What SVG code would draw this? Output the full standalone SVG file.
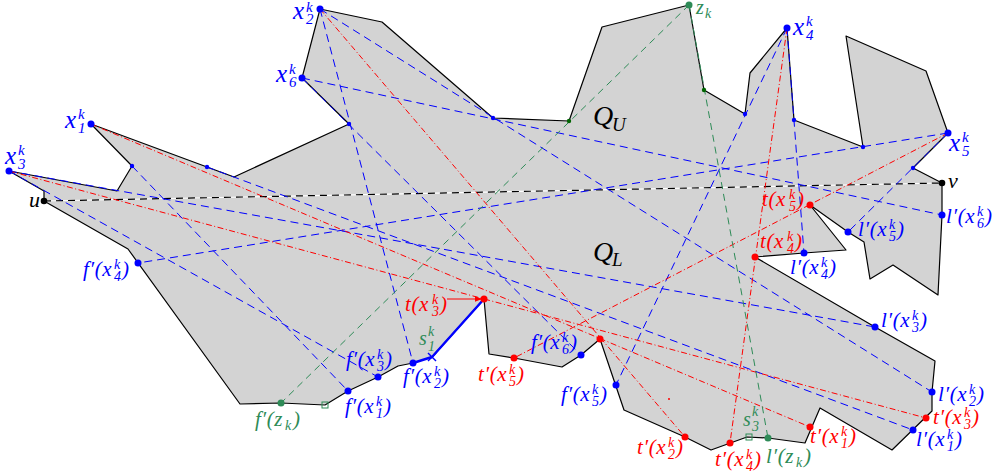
<svg xmlns="http://www.w3.org/2000/svg" width="993" height="473" viewBox="0 0 993 473">
<defs>
<style>
.poly{fill:#d3d3d3;stroke:#000;stroke-width:1.2;stroke-linejoin:round}
.bd{stroke:#0000ff;stroke-width:1;stroke-dasharray:8 5;fill:none}
.rd{stroke:#ff0000;stroke-width:1;stroke-dasharray:6 2.5 1 2.5;fill:none}
.gd{stroke:#2e8b57;stroke-width:1;stroke-dasharray:7 5;fill:none}
.L{font-family:"Liberation Serif","Times New Roman",serif;font-style:italic}
.m{font-size:21px;letter-spacing:0.6px}
.s{font-size:14px}
.X{font-size:25px}
.XS{font-size:15px}
.blue{fill:#0000ff}
.red{fill:#ff0000}
.grn{fill:#2e8b57}
.blk{fill:#000}
.bdot{fill:#0000ff}
.rdot{fill:#ff0000}
.gdot{fill:#2e8b57}
.dgdot{fill:#006400}
.sq{fill:none;stroke:#2e8b57;stroke-width:1}
</style>
<marker id="ah" viewBox="0 0 10 10" refX="10" refY="5" markerWidth="7" markerHeight="7" orient="auto" markerUnits="userSpaceOnUse">
<path d="M0,1 L10,5 L0,9 z" fill="#ff0000"/>
</marker>
</defs>

<g id="polygon">
<polygon class="poly" points="44,201 44,191 9,171 117,191 132,166 91,124 207,167 234,177 349,124 302,78 320,9 382,22 493,118 569,121 602,27 689,5 704,90 745,114 750,73 787,28 794,120 863,147 846,36 926,71 948,133 913,168 942,183 942,215 938,295 893,265 870,279 864,242 848,232 810,205 846,250 804,253 755,257 875,327 935,361 932,392 932,411 892,450 820,408 805,443 768,438 747,437 711,450 685,437 624,410 600,339 581,355 562,367 514,358 489,354 484,299 432,357 413,363 398,366 378,377 348,391 325,405 281,403 240,404 128,249"/>
<text class="L blk" x="593" y="125" font-size="28">Q</text><text class="L blk" x="612" y="131" font-size="19">U</text>
<text class="L blk" x="593" y="261" font-size="28">Q</text><text class="L blk" x="612" y="266" font-size="19">L</text>
</g>

<g id="connectors">
<line x1="44" y1="201" x2="942" y2="183" stroke="#fff" stroke-width="1.2"/>
<line x1="44" y1="201" x2="942" y2="183" stroke="#000" stroke-width="1.2" stroke-dasharray="7 5"/>
<line class="bd" x1="132" y1="166" x2="348" y2="391"/>
<line class="bd" x1="207" y1="167" x2="913" y2="430"/>
<line class="bd" x1="320" y1="9" x2="413" y2="363"/>
<line class="bd" x1="320" y1="9" x2="932" y2="392"/>
<line class="bd" x1="9" y1="171" x2="378" y2="377"/>
<line class="bd" x1="9" y1="171" x2="875" y2="327"/>
<line class="bd" x1="787" y1="28" x2="616" y2="385"/>
<line class="bd" x1="787" y1="28" x2="804" y2="253"/>
<line class="bd" x1="948" y1="133" x2="138" y2="263"/>
<line class="bd" x1="948" y1="133" x2="848" y2="232"/>
<line class="bd" x1="302" y1="78" x2="581" y2="355"/>
<line class="bd" x1="302" y1="78" x2="942" y2="215"/>
<line class="rd" x1="91" y1="124" x2="810" y2="427"/>
<line class="rd" x1="320" y1="9" x2="685" y2="437"/>
<line class="rd" x1="9" y1="171" x2="926" y2="418"/>
<line class="rd" x1="787" y1="28" x2="730" y2="443"/>
<line class="rd" x1="948" y1="133" x2="514" y2="358"/>
<line class="gd" x1="689" y1="5" x2="281" y2="403"/>
<line class="gd" x1="689" y1="5" x2="768" y2="438"/>
<polyline points="413,363 432,357 484,299" fill="none" stroke="#0000ff" stroke-width="2.4" stroke-linejoin="round"/>
<line x1="447" y1="299" x2="482" y2="299" stroke="#ff0000" stroke-width="1" marker-end="url(#ah)"/>
</g>

<g id="reflex-points">
<circle class="bdot" cx="132" cy="166" r="2.2"/>
<circle class="bdot" cx="207" cy="167" r="2.2"/>
<circle class="bdot" cx="349" cy="124" r="2.2"/>
<circle class="bdot" cx="493" cy="118" r="2.2"/>
<circle class="bdot" cx="745" cy="114" r="2.2"/>
<circle class="bdot" cx="794" cy="120" r="2.2"/>
<circle class="bdot" cx="863" cy="147" r="2.2"/>
<circle class="bdot" cx="913" cy="168" r="2.2"/>
<circle class="dgdot" cx="569" cy="121" r="2.2"/>
<circle class="dgdot" cx="704" cy="90" r="2.2"/>
<circle class="rdot" cx="669" cy="399" r="1"/>
</g>

<g id="u"><circle fill="#000" cx="44" cy="201" r="3.3"/><text class="L blk" x="29" y="207" font-size="22">u</text></g>
<g id="v"><circle fill="#000" cx="942" cy="183" r="3.3"/><text class="L blk" x="948" y="188" font-size="22">v</text></g>

<g id="x1"><circle class="bdot" cx="91" cy="124" r="3.5"/><text class="L blue"><tspan class="X" x="65" y="128">x</tspan><tspan class="XS" x="78" y="119">k</tspan><tspan class="XS" x="78" y="133">1</tspan></text></g>
<g id="x2"><circle class="bdot" cx="320" cy="9" r="3.5"/><text class="L blue"><tspan class="X" x="293" y="19">x</tspan><tspan class="XS" x="306" y="12">k</tspan><tspan class="XS" x="306" y="24">2</tspan></text></g>
<g id="x3"><circle class="bdot" cx="9" cy="171" r="3.5"/><text class="L blue"><tspan class="X" x="5" y="164">x</tspan><tspan class="XS" x="18" y="155">k</tspan><tspan class="XS" x="18" y="169">3</tspan></text></g>
<g id="x4"><circle class="bdot" cx="787" cy="28" r="3.5"/><text class="L blue"><tspan class="X" x="793" y="35">x</tspan><tspan class="XS" x="806" y="26">k</tspan><tspan class="XS" x="806" y="40">4</tspan></text></g>
<g id="x5"><circle class="bdot" cx="948" cy="133" r="3.5"/><text class="L blue"><tspan class="X" x="949" y="151">x</tspan><tspan class="XS" x="962" y="142">k</tspan><tspan class="XS" x="962" y="156">5</tspan></text></g>
<g id="x6"><circle class="bdot" cx="302" cy="78" r="3.5"/><text class="L blue"><tspan class="X" x="276" y="82">x</tspan><tspan class="XS" x="289" y="74">k</tspan><tspan class="XS" x="289" y="87">6</tspan></text></g>

<g id="zk"><circle class="gdot" cx="689" cy="5" r="3.5"/><text class="L grn"><tspan x="696" y="14" font-size="20">z</tspan><tspan class="s" x="705" y="18">k</tspan></text></g>

<g id="fx1"><circle class="bdot" cx="348" cy="391" r="3.5"/><text class="L blue"><tspan class="m" x="345" y="413">f′(x</tspan><tspan class="s" x="376" y="406">k</tspan><tspan class="s" x="376" y="418">1</tspan><tspan class="m" x="384" y="413">)</tspan></text></g>
<g id="fx2"><circle class="bdot" cx="413" cy="363" r="3.5"/><text class="L blue"><tspan class="m" x="403" y="383">f′(x</tspan><tspan class="s" x="434" y="376">k</tspan><tspan class="s" x="434" y="388">2</tspan><tspan class="m" x="442" y="383">)</tspan></text></g>
<g id="fx3"><circle class="bdot" cx="378" cy="377" r="3.5"/><text class="L blue"><tspan class="m" x="346" y="366">f′(x</tspan><tspan class="s" x="377" y="359">k</tspan><tspan class="s" x="377" y="371">3</tspan><tspan class="m" x="385" y="366">)</tspan></text></g>
<g id="fx4"><circle class="bdot" cx="138" cy="263" r="3.5"/><text class="L blue"><tspan class="m" x="83" y="276">f′(x</tspan><tspan class="s" x="114" y="269">k</tspan><tspan class="s" x="114" y="281">4</tspan><tspan class="m" x="122" y="276">)</tspan></text></g>
<g id="fx5"><circle class="bdot" cx="616" cy="385" r="3.5"/><text class="L blue"><tspan class="m" x="561" y="401">f′(x</tspan><tspan class="s" x="592" y="394">k</tspan><tspan class="s" x="592" y="406">5</tspan><tspan class="m" x="600" y="401">)</tspan></text></g>
<g id="fx6"><circle class="bdot" cx="581" cy="355" r="3.5"/><text class="L blue"><tspan class="m" x="531" y="349">f′(x</tspan><tspan class="s" x="562" y="342">k</tspan><tspan class="s" x="562" y="354">6</tspan><tspan class="m" x="570" y="349">)</tspan></text></g>

<g id="lx1"><circle class="bdot" cx="913" cy="430" r="3.5"/><text class="L blue"><tspan class="m" x="916" y="446">l′(x</tspan><tspan class="s" x="947" y="439">k</tspan><tspan class="s" x="947" y="451">1</tspan><tspan class="m" x="955" y="446">)</tspan></text></g>
<g id="lx2"><circle class="bdot" cx="932" cy="392" r="3.5"/><text class="L blue"><tspan class="m" x="938" y="401">l′(x</tspan><tspan class="s" x="969" y="394">k</tspan><tspan class="s" x="969" y="406">2</tspan><tspan class="m" x="977" y="401">)</tspan></text></g>
<g id="lx3"><circle class="bdot" cx="875" cy="327" r="3.5"/><text class="L blue"><tspan class="m" x="881" y="327">l′(x</tspan><tspan class="s" x="912" y="320">k</tspan><tspan class="s" x="912" y="332">3</tspan><tspan class="m" x="920" y="327">)</tspan></text></g>
<g id="lx4"><circle class="bdot" cx="804" cy="253" r="3.5"/><text class="L blue"><tspan class="m" x="790" y="274">l′(x</tspan><tspan class="s" x="821" y="267">k</tspan><tspan class="s" x="821" y="279">4</tspan><tspan class="m" x="829" y="274">)</tspan></text></g>
<g id="lx5"><circle class="bdot" cx="848" cy="232" r="3.5"/><text class="L blue"><tspan class="m" x="858" y="236">l′(x</tspan><tspan class="s" x="889" y="229">k</tspan><tspan class="s" x="889" y="241">5</tspan><tspan class="m" x="897" y="236">)</tspan></text></g>
<g id="lx6"><circle class="bdot" cx="942" cy="215" r="3.5"/><text class="L blue"><tspan class="m" x="946" y="223">l′(x</tspan><tspan class="s" x="977" y="216">k</tspan><tspan class="s" x="977" y="228">6</tspan><tspan class="m" x="985" y="223">)</tspan></text></g>

<g id="tx12"><circle class="rdot" cx="600" cy="339" r="3.5"/></g>
<g id="tx3"><circle class="rdot" cx="484" cy="299" r="3.5"/><text class="L red"><tspan class="m" x="405" y="311">t(x</tspan><tspan class="s" x="432" y="304">k</tspan><tspan class="s" x="432" y="316">3</tspan><tspan class="m" x="440" y="311">)</tspan></text></g>
<g id="tx4"><circle class="rdot" cx="755" cy="257" r="3.5"/><text class="L red"><tspan class="m" x="760" y="248">t(x</tspan><tspan class="s" x="787" y="241">k</tspan><tspan class="s" x="787" y="253">4</tspan><tspan class="m" x="795" y="248">)</tspan></text></g>
<g id="tx5"><circle class="rdot" cx="810" cy="205" r="3.5"/><text class="L red"><tspan class="m" x="762" y="206">t(x</tspan><tspan class="s" x="789" y="199">k</tspan><tspan class="s" x="789" y="211">5</tspan><tspan class="m" x="797" y="206">)</tspan></text></g>

<g id="tpx1"><circle class="rdot" cx="810" cy="427" r="3.5"/><text class="L red"><tspan class="m" x="810" y="443">t′(x</tspan><tspan class="s" x="841" y="436">k</tspan><tspan class="s" x="841" y="448">1</tspan><tspan class="m" x="849" y="443">)</tspan></text></g>
<g id="tpx2"><circle class="rdot" cx="685" cy="437" r="3.5"/><text class="L red"><tspan class="m" x="637" y="454">t′(x</tspan><tspan class="s" x="668" y="447">k</tspan><tspan class="s" x="668" y="459">2</tspan><tspan class="m" x="676" y="454">)</tspan></text></g>
<g id="tpx3"><circle class="rdot" cx="926" cy="418" r="3.5"/><text class="L red"><tspan class="m" x="933" y="424">t′(x</tspan><tspan class="s" x="964" y="417">k</tspan><tspan class="s" x="964" y="429">3</tspan><tspan class="m" x="972" y="424">)</tspan></text></g>
<g id="tpx4"><circle class="rdot" cx="730" cy="443" r="3.5"/><text class="L red"><tspan class="m" x="715" y="466">t′(x</tspan><tspan class="s" x="746" y="459">k</tspan><tspan class="s" x="746" y="471">4</tspan><tspan class="m" x="754" y="466">)</tspan></text></g>
<g id="tpx5"><circle class="rdot" cx="514" cy="358" r="3.5"/><text class="L red"><tspan class="m" x="478" y="381">t′(x</tspan><tspan class="s" x="509" y="374">k</tspan><tspan class="s" x="509" y="386">5</tspan><tspan class="m" x="517" y="381">)</tspan></text></g>

<g id="fzk"><circle class="gdot" cx="281" cy="403" r="3.5"/><text class="L grn"><tspan class="m" x="255" y="426">f′(z</tspan><tspan class="s" x="285" y="430">k</tspan><tspan class="m" x="293" y="426">)</tspan></text></g>
<g id="lzk"><circle class="gdot" cx="768" cy="438" r="3.5"/><text class="L grn"><tspan class="m" x="766" y="463">l′(z</tspan><tspan class="s" x="796" y="467">k</tspan><tspan class="m" x="804" y="463">)</tspan></text></g>

<g id="s1"><line x1="428" y1="353" x2="436" y2="361" stroke="#0000ff" stroke-width="1.5"/><line x1="428" y1="361" x2="436" y2="353" stroke="#0000ff" stroke-width="1.5"/><text class="L grn"><tspan x="419" y="345" font-size="20">s</tspan><tspan class="s" x="428" y="336">k</tspan><tspan class="s" x="428" y="351">1</tspan></text></g>
<g id="s3"><rect class="sq" x="746" y="434" width="6" height="6"/><text class="L grn"><tspan x="743" y="426" font-size="20">s</tspan><tspan class="s" x="752" y="416">k</tspan><tspan class="s" x="752" y="431">3</tspan></text></g>
<g id="sq1"><rect class="sq" x="322" y="402" width="6" height="6"/></g>
</svg>
